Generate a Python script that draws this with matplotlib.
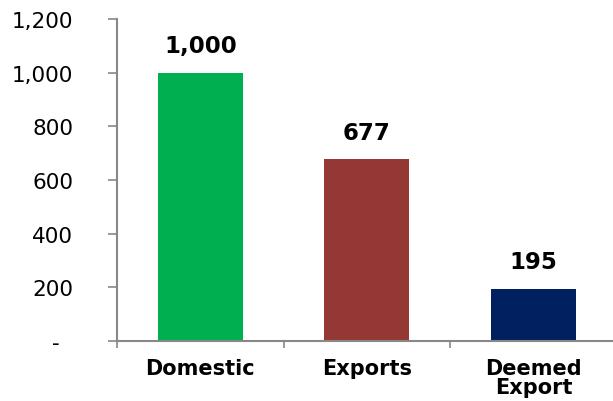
import matplotlib.pyplot as plt
from matplotlib.ticker import FuncFormatter, FixedLocator

plt.rcParams['font.family'] = ['DejaVu Sans']

categories = ['Domestic', 'Exports', 'Deemed\nExport']
values = [1000, 677, 195]
colors = ['#00B050', '#953735', '#002060']

fig = plt.figure(figsize=(6.13, 4.02), dpi=100)
ax = fig.add_axes([0.191, 0.149, 0.815, 0.801])

x = range(len(categories))
bars = ax.bar(x, values, width=0.51, color=colors)

# value labels above bars
for xi, v in zip(x, values):
    ax.annotate(f'{v:,}', (xi, v), xytext=(0, 15), textcoords='offset points',
                ha='center', va='baseline', fontsize=16.5, fontweight='bold')

ax.set_xlim(-0.5, 2.5)
ax.set_ylim(0, 1200)
ax.set_yticks(range(0, 1201, 200))
# accounting style: zero shown as a dash
ax.yaxis.set_major_formatter(FuncFormatter(lambda v, p: '-  ' if v == 0 else f'{int(v):,}'))
ax.tick_params(axis='y', labelsize=15.5, length=6.5, width=1.2, color='#888888', pad=25)

ax.set_xticks(list(x))
ax.set_xticklabels(categories, fontsize=15, fontweight='bold', linespacing=0.95)
ax.tick_params(axis='x', length=0, pad=12)
ax.xaxis.set_minor_locator(FixedLocator([-0.5, 0.5, 1.5, 2.5]))
ax.tick_params(axis='x', which='minor', length=5, width=1.2, color='#888888')

for s in ['top', 'right']:
    ax.spines[s].set_visible(False)
for s in ['left', 'bottom']:
    ax.spines[s].set_color('#888888')
    ax.spines[s].set_linewidth(1.5)

fig.savefig('out.png', dpi=100)
